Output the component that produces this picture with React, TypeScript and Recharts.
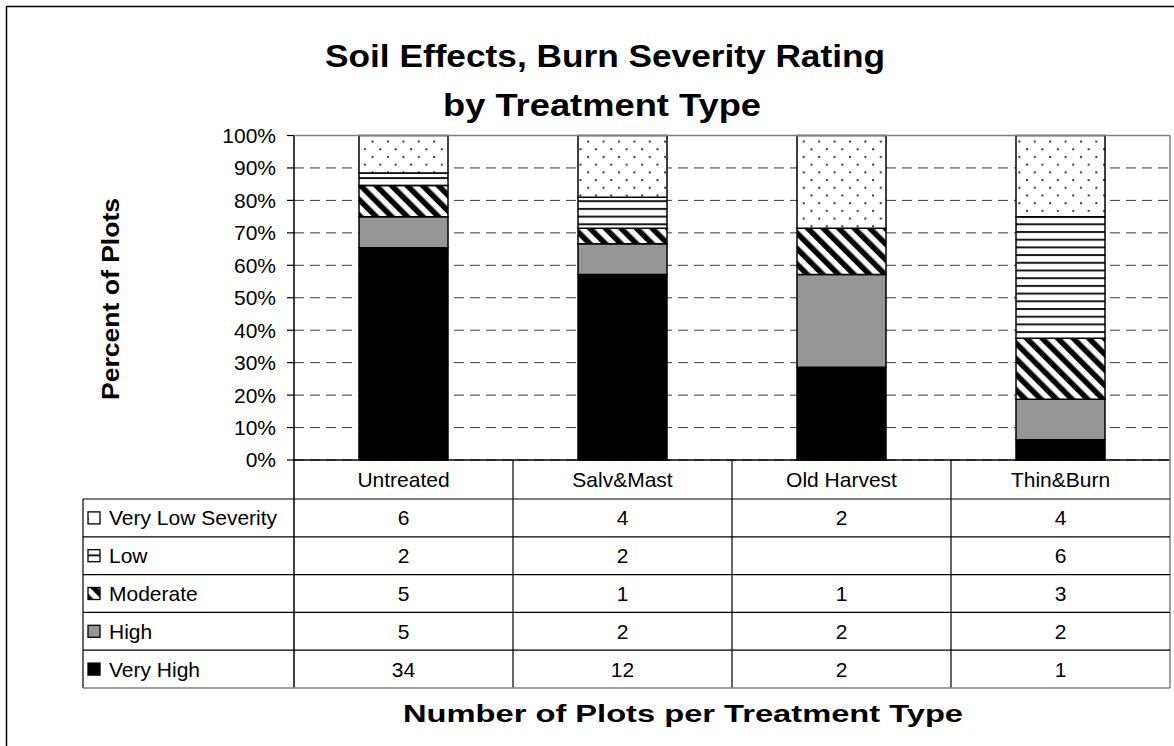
import React from 'react';
import { BarChart, Bar, XAxis, YAxis, CartesianGrid } from 'recharts';

// ---------- data ----------
const categories = ['Untreated', 'Salv&Mast', 'Old Harvest', 'Thin&Burn'];
const veryHigh = [34, 12, 2, 1];
const high = [5, 2, 2, 2];
const moderate = [5, 1, 1, 3];
const low: (number | null)[] = [2, 2, null, 6];
const veryLow = [6, 4, 2, 4];
const yTicks = [0, 0.1, 0.2, 0.3, 0.4, 0.5, 0.6, 0.7, 0.8, 0.9, 1];
const titleLines = ['Soil Effects, Burn Severity Rating', 'by Treatment Type'];
const yTitle = 'Percent of Plots';
const xTitle = 'Number of Plots per Treatment Type';

// ---------- layout ----------
const W = 1174;
const H = 746;
const PLOT_LEFT = 294;
const PLOT_RIGHT = 1170;
const PLOT_TOP = 135.5;
const PLOT_BOTTOM = 460;
const CAT_ROW_BOTTOM = 499;
const ROW_H = 37.8;
const TABLE_LEFT = 83;
const Y_AXIS_W = 60;
const X_AXIS_H = CAT_ROW_BOTTOM - PLOT_BOTTOM;
const FONT = 'Liberation Sans, Arial, Helvetica, sans-serif';
const FS = 21;
const COL_W = (PLOT_RIGHT - PLOT_LEFT) / categories.length;

const series = [
  { key: 'veryHigh', name: 'Very High', values: veryHigh as (number | null)[], fill: '#000000' },
  { key: 'high', name: 'High', values: high as (number | null)[], fill: '#969696' },
  { key: 'moderate', name: 'Moderate', values: moderate as (number | null)[], fill: 'url(#patDiag)' },
  { key: 'low', name: 'Low', values: low, fill: 'url(#patHoriz)' },
  { key: 'veryLow', name: 'Very Low Severity', values: veryLow as (number | null)[], fill: 'url(#patDots)' },
];
const tableRows = [...series].reverse();

const data = categories.map((c, i) => {
  const row: any = { name: c };
  series.forEach((s) => {
    row[s.key] = s.values[i] ?? 0;
  });
  return row;
});

const rowMid = (k: number) => CAT_ROW_BOTTOM + ROW_H * (k + 0.5);

const Patterns = () => (
  <defs>
    <pattern id="patDots" patternUnits="userSpaceOnUse" width="15.4" height="15.4">
      <rect x="0" y="0" width="15.4" height="15.4" fill="#ffffff" />
      <rect x="2" y="2" width="2" height="2" fill="#333333" />
      <rect x="9.7" y="9.7" width="2" height="2" fill="#333333" />
    </pattern>
    <pattern id="patHoriz" patternUnits="userSpaceOnUse" width="8" height="7.7">
      <rect x="0" y="0" width="8" height="7.7" fill="#ffffff" />
      <rect x="0" y="0" width="8" height="2" fill="#1a1a1a" />
    </pattern>
    <pattern id="patDiag" patternUnits="userSpaceOnUse" width="11" height="11" patternTransform="rotate(-45)">
      <rect x="0" y="0" width="11" height="11" fill="#ffffff" />
      <rect x="0" y="0" width="5.5" height="11" fill="#000000" />
    </pattern>
  </defs>
);

const TableTick = (props: any) => {
  const { x, payload } = props;
  const i = payload.index;
  return (
    <g>
      <text
        x={x}
        y={(PLOT_BOTTOM + CAT_ROW_BOTTOM) / 2}
        textAnchor="middle"
        dominantBaseline="central"
        fontSize={FS}
        fontFamily={FONT}
        fill="#000"
      >
        {payload.value}
      </text>
      {tableRows.map((r, k) => (
        <text
          key={r.key}
          x={x}
          y={rowMid(k)}
          textAnchor="middle"
          dominantBaseline="central"
          fontSize={FS}
          fontFamily={FONT}
          fill="#000"
        >
          {r.values[i] == null ? '' : String(r.values[i])}
        </text>
      ))}
    </g>
  );
};

const Overlay = () => {
  const tableBottom = CAT_ROW_BOTTOM + ROW_H * tableRows.length;
  return (
    <svg
      width={W}
      height={H}
      style={{ position: 'absolute', left: 0, top: 0, pointerEvents: 'none' }}
    >
      {/* outer frame */}
      <rect x={6.5} y={6.5} width={W + 40} height={H + 40} fill="none" stroke="#000" strokeWidth={1.5} />
      {/* title */}
      <text x={605} y={67} textAnchor="middle" fontSize={32} fontWeight="bold" fontFamily={FONT} fill="#000"
        textLength={560} lengthAdjust="spacingAndGlyphs">
        {titleLines[0]}
      </text>
      <text x={602} y={116} textAnchor="middle" fontSize={32} fontWeight="bold" fontFamily={FONT} fill="#000"
        textLength={318} lengthAdjust="spacingAndGlyphs">
        {titleLines[1]}
      </text>
      {/* y title */}
      <text
        x={0}
        y={0}
        transform={`translate(111, 299) rotate(-90)`}
        textAnchor="middle"
        dominantBaseline="central"
        fontSize={23}
        fontWeight="bold"
        fontFamily={FONT}
        fill="#000"
        textLength={202}
        lengthAdjust="spacingAndGlyphs"
      >
        {yTitle}
      </text>
      {/* plot border top & right */}
      <line x1={PLOT_LEFT} y1={PLOT_TOP} x2={PLOT_RIGHT} y2={PLOT_TOP} stroke="#808080" strokeWidth={1.5} />
      <line x1={PLOT_RIGHT} y1={PLOT_TOP} x2={PLOT_RIGHT} y2={tableBottom} stroke="#808080" strokeWidth={1.5} />
      {/* table vertical lines */}
      {categories.slice(0, -1).map((c, i) => (
        <line
          key={c}
          x1={PLOT_LEFT + COL_W * (i + 1)}
          y1={PLOT_BOTTOM}
          x2={PLOT_LEFT + COL_W * (i + 1)}
          y2={tableBottom}
          stroke="#000"
          strokeWidth={1.2}
        />
      ))}
      <line x1={PLOT_LEFT} y1={PLOT_BOTTOM} x2={PLOT_LEFT} y2={tableBottom} stroke="#000" strokeWidth={1.5} />
      <line x1={TABLE_LEFT} y1={CAT_ROW_BOTTOM} x2={TABLE_LEFT} y2={tableBottom} stroke="#000" strokeWidth={1.2} />
      {/* table horizontal lines */}
      {tableRows.map((r, k) => (
        <line
          key={r.key}
          x1={TABLE_LEFT}
          y1={CAT_ROW_BOTTOM + ROW_H * k}
          x2={PLOT_RIGHT}
          y2={CAT_ROW_BOTTOM + ROW_H * k}
          stroke="#000"
          strokeWidth={1.2}
        />
      ))}
      <line x1={TABLE_LEFT} y1={tableBottom} x2={PLOT_RIGHT} y2={tableBottom} stroke="#808080" strokeWidth={1.5} />
      {/* legend keys + labels */}
      {tableRows.map((r, k) => (
        <g key={r.key}>
          <rect x={88} y={rowMid(k) - 6} width={12} height={12} fill={r.fill} stroke="#000" strokeWidth={1.3} />
          <text x={109} y={rowMid(k)} dominantBaseline="central" fontSize={FS} fontFamily={FONT} fill="#000">
            {r.name}
          </text>
        </g>
      ))}
      {/* x title */}
      <text x={683} y={714} textAnchor="middle" dominantBaseline="central" fontSize={23} fontWeight="bold" fontFamily={FONT} fill="#000"
        textLength={560} lengthAdjust="spacingAndGlyphs">
        {xTitle}
      </text>
    </svg>
  );
};

export default function App() {
  return (
    <div style={{ position: 'absolute', left: 0, top: 0, width: W, height: H, background: '#fff' }}>
      <BarChart
        width={W}
        height={H}
        data={data}
        stackOffset="expand"
        barCategoryGap="0%"
        barSize={89}
        margin={{
          top: PLOT_TOP,
          right: W - PLOT_RIGHT,
          left: PLOT_LEFT - Y_AXIS_W,
          bottom: H - PLOT_BOTTOM - X_AXIS_H,
        }}
      >
        <Patterns />
        <CartesianGrid vertical={false} stroke="#3a3a3a" strokeDasharray="10 6" />
        <XAxis
          dataKey="name"
          height={X_AXIS_H}
          interval={0}
          tickLine={false}
          axisLine={{ stroke: '#000', strokeWidth: 1.5 }}
          tick={<TableTick />}
        />
        <YAxis
          type="number"
          domain={[0, 1]}
          ticks={yTicks}
          width={Y_AXIS_W}
          tickSize={7}
          tickMargin={11}
          tickFormatter={(v: number) => `${Math.round(v * 100)}%`}
          tick={{ fontSize: FS, fontFamily: FONT, fill: '#000' }}
          axisLine={{ stroke: '#000', strokeWidth: 1.5 }}
          tickLine={{ stroke: '#000', strokeWidth: 1.2 }}
        />
        {series.map((s) => (
          <Bar
            key={s.key}
            dataKey={s.key}
            name={s.name}
            stackId="a"
            fill={s.fill}
            stroke="#000"
            strokeWidth={1.5}
            isAnimationActive={false}
          />
        ))}
      </BarChart>
      <Overlay />
    </div>
  );
}
